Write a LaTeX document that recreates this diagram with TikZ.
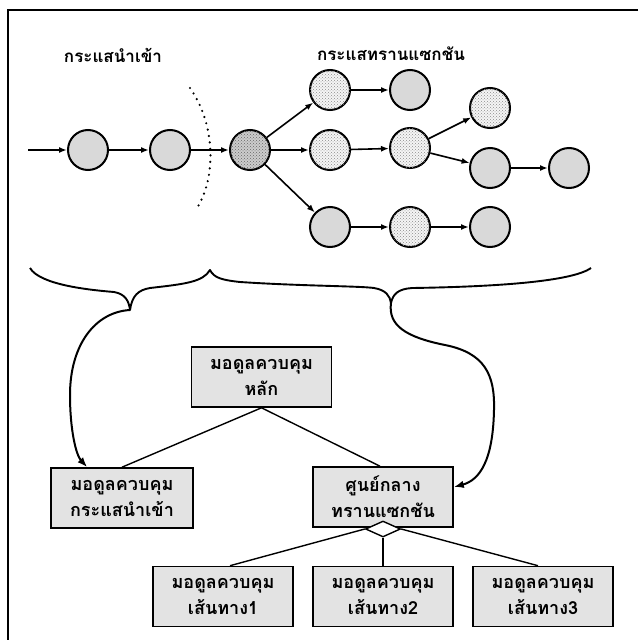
\documentclass[tikz,border=0pt]{standalone}
\usepackage{fontspec}
\newfontfamily\thai[Script=Thai]{Loma}
\usetikzlibrary{arrows.meta,shapes.geometric,patterns}
\begin{document}
\begin{tikzpicture}[x=1pt,y=-1pt,
  ball/.style={circle,draw,line width=2pt,minimum size=40pt,inner sep=0pt},
  greyball/.style={ball,fill=gray!30},
  darkball/.style={ball,fill=gray!40,postaction={pattern=crosshatch dots,pattern color=black!60}},
  lightball/.style={ball,fill=gray!8,postaction={pattern=crosshatch dots,pattern color=black!45}},
  flow/.style={-{Latex[length=8pt,width=6pt]},line width=1.6pt},
  bigflow/.style={-{Latex[length=10pt,width=7.5pt]},line width=2pt},
  module/.style={draw,line width=1.6pt,fill=gray!22,minimum width=140pt,minimum height=60pt,
    inner sep=0pt,align=center,font=\thai\bfseries\fontsize{18}{26}\selectfont},
  tree/.style={line width=1.4pt},
  heading/.style={font=\thai\bfseries\fontsize{17}{20}\selectfont,inner sep=0pt}
]
\useasboundingbox (0,0) rectangle (638,640);

% frame
\draw[line width=2pt] (638,10) -- (8,10) -- (8,640);

% stream headings
\node[heading] (hin) at (113,55) {กระแสนำเข้า};
\node[heading] (htr) at (391,54) {กระแสทรานแซกชัน};

% input stream
\coordinate (in0) at (28,150);
\node[greyball] (c1) at (88,150) {};
\node[greyball] (c2) at (170,150) {};
\node[darkball] (c3) at (250,150) {};

% transaction stream
\node[lightball] (t1) at (330,90) {};
\node[greyball]  (t2) at (410,90) {};
\node[lightball] (m1) at (330,150) {};
\node[lightball] (m2) at (410,148) {};
\node[lightball] (u)  at (490,108) {};
\node[greyball]  (d1) at (490,168) {};
\node[greyball]  (d2) at (569,168) {};
\node[greyball]  (b1) at (330,227) {};
\node[lightball] (b2) at (410,227) {};
\node[greyball]  (b3) at (490,227) {};

\draw[flow] (in0) -- (c1);
\draw[flow] (c1) -- (c2);
\draw[flow] (c2) -- (c3);
\draw[flow] (c3) -- (t1);
\draw[flow] (c3) -- (m1);
\draw[flow] (c3) -- (b1);
\draw[flow] (t1) -- (t2);
\draw[flow] (m1) -- (m2);
\draw[flow] (m2) -- (u);
\draw[flow] (m2) -- (d1);
\draw[flow] (d1) -- (d2);
\draw[flow] (b1) -- (b2);
\draw[flow] (b2) -- (b3);

% boundary between the two streams
\draw[line width=2.4pt,line cap=round,dash pattern=on 0pt off 6.5pt]
  (190,88) .. controls (216,125) and (216,178) .. (197,208);

% brace over both streams
\coordinate (tipL) at (130,310);
\coordinate (tipR) at (391,303);
\draw[line width=1.9pt,line join=round]
  (30,268) .. controls (40,285) and (90,290) .. (114,292)
  .. controls (126,294) and (129,302) .. (tipL)
  .. controls (132,296) and (138,290) .. (150,288)
  .. controls (185,284) and (203,282) .. (210,270)
  .. controls (214,278) and (222,280) .. (240,282)
  .. controls (300,286) and (360,286) .. (374,288)
  .. controls (386,290) and (390,296) .. (tipR)
  .. controls (393,294) and (398,289) .. (412,288)
  .. controls (480,287) and (570,283) .. (591,268);

% control hierarchy
\node[module] (main) at (261.5,377) {มอดูลควบคุม\\หลัก};
\node[module,minimum width=142pt] (inB) at (122,498) {มอดูลควบคุม\\กระแสนำเข้า};
\node[module] (tc) at (383,497) {ศูนย์กลาง\\ทรานแซกชัน};
\node[module] (r1) at (223,596.5) {มอดูลควบคุม\\เส้นทาง1};
\node[module] (r2) at (383,596.5) {มอดูลควบคุม\\เส้นทาง2};
\node[module] (r3) at (543,596.5) {มอดูลควบคุม\\เส้นทาง3};
\node[diamond,draw,fill=white,line width=1.4pt,inner sep=0pt,
      minimum width=35pt,minimum height=16pt] (dia) at (383,529) {};

\draw[tree] (main.south) -- (inB.north);
\draw[tree] (main.south) -- ([xshift=-3pt]tc.north);
\draw[tree] (dia.west) -- ([xshift=7pt]r1.north);
\draw[tree] (dia.south) -- (r2.north);
\draw[tree] (dia.east) -- ([xshift=-5pt]r3.north);

% brace tips lead to their control modules
\draw[bigflow] (tipL) .. controls (95,312) and (70,345) .. (70,395)
  .. controls (70,430) and (76,455) .. ([xshift=37pt]inB.north west);
\draw[bigflow] (tipR) .. controls (388,325) and (405,337) .. (445,345)
  .. controls (485,353) and (495,375) .. (494,410)
  .. controls (493,460) and (480,480) .. ([yshift=10pt]tc.east);
\end{tikzpicture}
\end{document}
